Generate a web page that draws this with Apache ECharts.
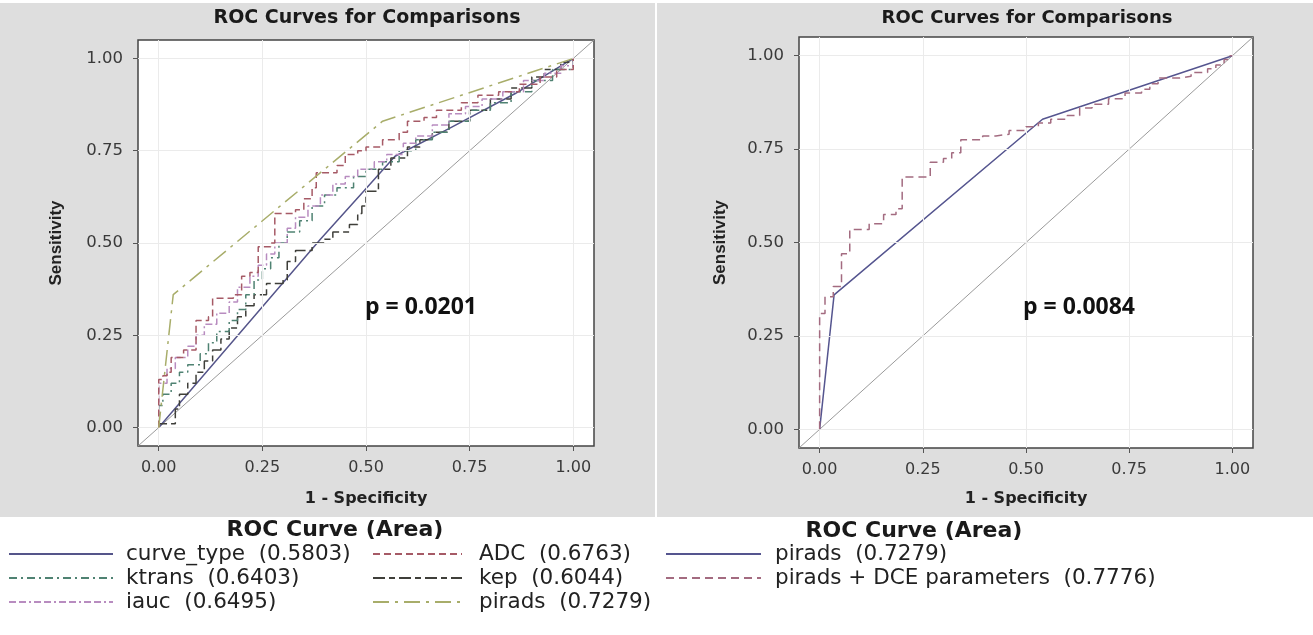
<!DOCTYPE html>
<html><head><meta charset="utf-8">
<script src="https://cdn.jsdelivr.net/npm/echarts@6/dist/echarts.min.js"></script>
<style>html,body{margin:0;padding:0;background:#fff}#c{width:1313px;height:635px}</style>
</head><body><div id="c"></div>
<script>
// ---- data ----
const tickValues = [0, 0.25, 0.5, 0.75, 1];
const chartTitle = 'ROC Curves for Comparisons';
const legendTitle = 'ROC Curve (Area)';
const pLeft = 'p = 0.0201';
const pRight = 'p = 0.0084';

const leftNames = ['curve_type', 'ADC', 'ktrans', 'kep', 'iauc', 'pirads'];
const leftAreas = ['0.5803', '0.6763', '0.6403', '0.6044', '0.6495', '0.7279'];
const rightNames = ['pirads', 'pirads + DCE parameters'];
const rightAreas = ['0.7279', '0.7776'];

const diagonal = [[-0.05, -0.05], [1.05, 1.05]];

const curveType = [[0,0],[0.39,0.51],[0.49,0.635],[0.57,0.735],[0.70,0.81],[0.86,0.905],[1,1]];
const adc = [[0,0],[0,0.13],[0.01,0.14],[0.02,0.15],[0.03,0.19],[0.06,0.21],[0.09,0.29],[0.12,0.30],[0.13,0.35],[0.18,0.36],[0.20,0.41],[0.22,0.42],[0.24,0.49],[0.27,0.50],[0.28,0.58],[0.33,0.59],[0.35,0.62],[0.37,0.65],[0.38,0.69],[0.43,0.71],[0.45,0.74],[0.48,0.75],[0.50,0.76],[0.54,0.78],[0.58,0.80],[0.60,0.83],[0.64,0.84],[0.67,0.86],[0.73,0.88],[0.77,0.90],[0.82,0.91],[0.87,0.93],[0.92,0.95],[0.96,0.97],[1,1]];
const iauc = [[0,0],[0,0.12],[0.02,0.16],[0.04,0.19],[0.07,0.22],[0.09,0.25],[0.11,0.28],[0.14,0.31],[0.17,0.34],[0.19,0.38],[0.22,0.41],[0.24,0.44],[0.26,0.47],[0.28,0.50],[0.31,0.54],[0.33,0.57],[0.36,0.60],[0.39,0.63],[0.42,0.66],[0.45,0.68],[0.48,0.70],[0.52,0.72],[0.55,0.74],[0.59,0.77],[0.62,0.79],[0.66,0.82],[0.70,0.85],[0.74,0.87],[0.78,0.89],[0.83,0.91],[0.88,0.94],[0.93,0.96],[0.97,0.98],[1,1]];
const ktrans = [[0,0],[0,0.06],[0.01,0.09],[0.03,0.12],[0.05,0.15],[0.07,0.17],[0.10,0.20],[0.12,0.23],[0.14,0.26],[0.17,0.29],[0.19,0.32],[0.21,0.36],[0.23,0.40],[0.25,0.43],[0.27,0.46],[0.29,0.50],[0.31,0.53],[0.34,0.56],[0.37,0.60],[0.40,0.63],[0.43,0.65],[0.47,0.68],[0.50,0.70],[0.54,0.72],[0.58,0.75],[0.62,0.78],[0.66,0.80],[0.70,0.83],[0.75,0.86],[0.80,0.88],[0.85,0.91],[0.90,0.94],[0.95,0.97],[1,1]];
const kep = [[0,0],[0,0.01],[0.04,0.01],[0.04,0.05],[0.05,0.09],[0.07,0.12],[0.09,0.15],[0.11,0.18],[0.13,0.21],[0.15,0.24],[0.17,0.27],[0.19,0.30],[0.21,0.33],[0.23,0.36],[0.26,0.39],[0.30,0.40],[0.31,0.45],[0.33,0.48],[0.37,0.50],[0.40,0.51],[0.42,0.53],[0.46,0.55],[0.48,0.58],[0.49,0.60],[0.50,0.64],[0.53,0.70],[0.56,0.73],[0.60,0.76],[0.63,0.78],[0.66,0.80],[0.70,0.83],[0.75,0.86],[0.80,0.89],[0.85,0.92],[0.90,0.95],[0.93,0.97],[0.97,0.99],[1,1]];
const pirads = [[0,0],[0.035,0.36],[0.54,0.83],[1,1]];
const piradsDce = [[0,0],[0,0.31],[0.013,0.355],[0.033,0.382],[0.053,0.47],[0.073,0.535],[0.12,0.55],[0.155,0.575],[0.185,0.59],[0.2,0.675],[0.268,0.715],[0.3,0.725],[0.32,0.74],[0.342,0.775],[0.395,0.785],[0.427,0.79],[0.459,0.8],[0.5,0.81],[0.53,0.82],[0.56,0.83],[0.6,0.84],[0.63,0.86],[0.66,0.87],[0.7,0.885],[0.74,0.9],[0.78,0.91],[0.8,0.925],[0.82,0.94],[0.87,0.945],[0.9,0.955],[0.94,0.965],[0.96,0.975],[0.98,0.99],[0.99,1],[1,1]];

// ---- styles ----
const C = {
  curve_type: '#55558a', ADC: '#a65a66', ktrans: '#4f8272', kep: '#3f3f3a', iauc: '#b88cc0', pirads: '#a8ad6a',
  pR: '#55558f', dce: '#a36b80'
};
const labelMap = {};
leftNames.forEach((n, i) => { labelMap[n] = n + '  (' + leftAreas[i] + ')'; });
labelMap['pirads_R'] = rightNames[0] + '  (' + rightAreas[0] + ')';
labelMap['pirads_DCE'] = rightNames[1] + '  (' + rightAreas[1] + ')';

const FONT = 'DejaVu Sans';
function xAxisCfg(gi, gap) {
  return {
    type: 'value', gridIndex: gi, min: -0.05, max: 1.05,
    axisLine: { show: false, onZero: false },
    axisTick: { show: true, customValues: tickValues, length: 5, lineStyle: { color: '#555', width: 1 } },
    axisLabel: { customValues: tickValues, formatter: v => v.toFixed(2), fontFamily: FONT, fontSize: 16, color: '#3a3a3a', margin: 14 },
    splitLine: { show: false },
    name: '1 - Specificity', nameLocation: 'middle', nameGap: gap,
    nameTextStyle: { fontFamily: FONT, fontWeight: 'bold', fontSize: 16, color: '#222' }
  };
}
function yAxisCfg(gi, gap) {
  return {
    type: 'value', gridIndex: gi, min: -0.05, max: 1.05,
    axisLine: { show: false, onZero: false },
    axisTick: { show: true, customValues: tickValues, length: 5, lineStyle: { color: '#555', width: 1 } },
    axisLabel: { customValues: tickValues, formatter: v => v.toFixed(2), fontFamily: FONT, fontSize: 16.5, color: '#3a3a3a', margin: 15 },
    splitLine: { show: false },
    name: 'Sensitivity', nameLocation: 'middle', nameGap: gap, nameRotate: 90,
    nameTextStyle: { fontFamily: 'Liberation Sans', fontWeight: 'bold', fontSize: 17, color: '#222' }
  };
}
function gridLines(gi) {
  return {
    type: 'line', xAxisIndex: gi, yAxisIndex: gi, data: [], silent: true, z: 1,
    markLine: {
      silent: true, symbol: 'none', animation: false, label: { show: false },
      lineStyle: { color: '#ebebeb', width: 1, type: 'solid' },
      data: tickValues.map(v => ({ xAxis: v })).concat(tickValues.map(v => ({ yAxis: v })))
    }
  };
}
function ln(name, data, gi, color, type, step, z) {
  return {
    name, type: 'line', xAxisIndex: gi, yAxisIndex: gi, data, symbol: 'none', showSymbol: false,
    step: step ? 'end' : false, z: z || 3,
    lineStyle: { color, width: 1.5, type }, itemStyle: { color }, emphasis: { disabled: true }
  };
}
const legendText = { fontFamily: FONT, fontSize: 21.5, color: '#222', lineHeight: 22 };
function lg(data, left, w, pad) {
  return {
    data, orient: 'vertical', left, top: 543, itemWidth: w, itemHeight: 14, itemGap: 2,
    selectedMode: false, formatter: n => labelMap[n], padding: 0,
    textStyle: Object.assign({ padding: [0, 0, 0, pad] }, legendText),
    itemStyle: { opacity: 0 }, lineStyle: { width: 2 }
  };
}

const option = {
  animation: false,
  backgroundColor: '#ffffff',
  title: [
    { text: chartTitle, left: 367, top: 9, textAlign: 'center', padding: 0, textStyle: { fontFamily: FONT, fontWeight: 'bold', fontSize: 19, color: '#1a1a1a' } },
    { text: chartTitle, left: 1027, top: 9, textAlign: 'center', padding: 0, textStyle: { fontFamily: FONT, fontWeight: 'bold', fontSize: 18, color: '#1a1a1a' } },
    { text: legendTitle, left: 335, top: 519, textAlign: 'center', padding: 0, textStyle: { fontFamily: FONT, fontWeight: 'bold', fontSize: 22, color: '#1a1a1a' } },
    { text: legendTitle, left: 914, top: 520, textAlign: 'center', padding: 0, textStyle: { fontFamily: FONT, fontWeight: 'bold', fontSize: 22, color: '#1a1a1a' } }
  ],
  grid: [
    { left: 138, top: 40, width: 456, height: 406, show: true, backgroundColor: '#fff', borderColor: '#444', borderWidth: 1.5 },
    { left: 799, top: 37, width: 454, height: 411, show: true, backgroundColor: '#fff', borderColor: '#444', borderWidth: 1.5 }
  ],
  xAxis: [xAxisCfg(0, 45), xAxisCfg(1, 43)],
  yAxis: [yAxisCfg(0, 73), yAxisCfg(1, 70)],
  legend: [
    lg(['curve_type', 'ktrans', 'iauc'], 8, 104, 8),
    lg(['ADC', 'kep', 'pirads'], 372, 89, 12),
    lg(['pirads_R', 'pirads_DCE'], 665, 95, 9)
  ],
  graphic: [
    { type: 'rect', z: -10, shape: { x: 0, y: 3, width: 655, height: 514 }, style: { fill: '#dedede' } },
    { type: 'rect', z: -10, shape: { x: 657, y: 3, width: 656, height: 514 }, style: { fill: '#dedede' } },
    { type: 'text', z: 10, x: 421, y: 307, style: { text: pLeft, font: 'bold 23px "Open Sans"', fill: '#111', align: 'center', verticalAlign: 'middle' } },
    { type: 'text', z: 10, x: 1079, y: 307, style: { text: pRight, font: 'bold 23px "Open Sans"', fill: '#111', align: 'center', verticalAlign: 'middle' } }
  ],
  series: [
    gridLines(0), gridLines(1),
    { type: 'line', xAxisIndex: 0, yAxisIndex: 0, data: diagonal, symbol: 'none', silent: true, z: 2, lineStyle: { color: '#9a9a9a', width: 1 } },
    { type: 'line', xAxisIndex: 1, yAxisIndex: 1, data: diagonal, symbol: 'none', silent: true, z: 2, lineStyle: { color: '#9a9a9a', width: 1 } },
    ln('curve_type', curveType, 0, C.curve_type, 'solid', false, 3),
    ln('kep', kep, 0, C.kep, [12, 4, 6, 4], true, 3),
    ln('ktrans', ktrans, 0, C.ktrans, [8, 4, 2, 4], true, 4),
    ln('iauc', iauc, 0, C.iauc, [7, 3, 7, 3, 2, 3], true, 4),
    ln('ADC', adc, 0, C.ADC, [7, 4], true, 5),
    ln('pirads', pirads, 0, C.pirads, [16, 6, 3, 6], false, 5),
    ln('pirads_R', pirads, 1, C.pR, 'solid', false, 4),
    ln('pirads_DCE', piradsDce, 1, C.dce, [8, 5], true, 5)
  ]
};
const chart = echarts.init(document.getElementById('c'), null, { renderer: 'canvas' });
chart.setOption(option);
</script></body></html>
